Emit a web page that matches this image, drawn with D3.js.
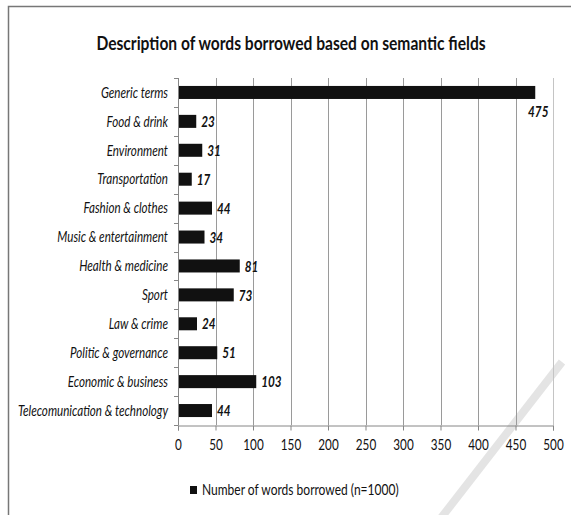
<!DOCTYPE html>
<html>
<head>
<meta charset="utf-8">
<script src="https://cdn.jsdelivr.net/npm/d3@7"></script>
<style>
  body { margin: 0; background: #fff; }
  svg { display: block; font-family: Lato, "Open Sans", sans-serif; }
</style>
</head>
<body>
<svg id="chart" width="571" height="515"></svg>
<script>
// chart data
const categories = [
	'Generic terms', 'Food & drink', 'Environment', 'Transportation',
	'Fashion & clothes', 'Music & entertainment', 'Health & medicine', 'Sport',
	'Law & crime', 'Politic & governance', 'Economic & business', 'Telecomunication & technology'
];
const wordCounts = [475, 23, 31, 17, 44, 34, 81, 73, 24, 51, 103, 44];
const xTicks = [0, 50, 100, 150, 200, 250, 300, 350, 400, 450, 500];
const chartTitle = 'Description of words borrowed based on semantic fields';
const legendLabel = 'Number of words borrowed (n=1000)';

const plot = { left: 178, right: 553, top: 78, bottom: 425 };
const axisColor = '#868686';

// the source font is a condensed one, so squeeze the glyphs horizontally
function condense(sel, k) {
	sel.each(function() {
		const len = this.getComputedTextLength();
		d3.select(this)
			.attr('textLength', len * k)
			.attr('lengthAdjust', 'spacingAndGlyphs');
	});
}

const svg = d3.select('#chart');

// watermark stroke + frame
svg.append('line')
	.attr('x1', 441).attr('y1', 518).attr('x2', 562).attr('y2', 362)
	.attr('stroke', '#e4e4e4').attr('stroke-width', 8);
svg.append('path')
	.attr('d', 'M8.5,520 V6.5 H575')
	.attr('fill', 'none').attr('stroke', '#777').attr('stroke-width', 1.5);

const title = svg.append('text')
	.attr('x', 291).attr('y', 50)
	.attr('text-anchor', 'middle')
	.attr('font-size', 19).attr('font-weight', 'bold')
	.attr('fill', '#111')
	.text(chartTitle);
condense(title, 0.82);

const x = d3.scaleLinear().domain([0, 500]).range([plot.left, plot.right]);
const y = d3.scaleBand().domain(categories).range([plot.top, plot.bottom])
	.paddingInner(0.55).paddingOuter(0.275);

// gridlines
svg.append('g').attr('class', 'grid')
	.selectAll('line')
	.data(xTicks.slice(1))
	.enter().append('line')
	.attr('x1', d => Math.round(x(d)) + 0.5).attr('x2', d => Math.round(x(d)) + 0.5)
	.attr('y1', plot.top).attr('y2', plot.bottom)
	.attr('stroke', d => d === 500 ? '#c4c4c4' : '#9a9a9a')
	.attr('stroke-width', 1);

// x axis
const xAxis = svg.append('g')
	.attr('transform', 'translate(0,' + (plot.bottom + 0.5) + ')')
	.call(d3.axisBottom(x).tickValues(xTicks).tickSize(5).tickSizeOuter(5).tickPadding(9));
xAxis.selectAll('path, line').attr('stroke', axisColor);
xAxis.selectAll('text').attr('font-size', 15).attr('fill', '#111')
	.attr('font-family', 'Lato, sans-serif');
condense(xAxis.selectAll('text'), 0.78);

// y axis line + boundary ticks
const gap = y.step() - y.bandwidth();
const bounds = categories.map(c => y(c) - gap / 2).concat([plot.bottom]);
svg.append('line')
	.attr('x1', plot.left + 0.5).attr('x2', plot.left + 0.5)
	.attr('y1', plot.top).attr('y2', plot.bottom)
	.attr('stroke', axisColor);
svg.append('g').selectAll('line')
	.data(bounds)
	.enter().append('line')
	.attr('x1', plot.left - 4).attr('x2', plot.left + 0.5)
	.attr('y1', d => Math.round(d) + 0.5).attr('y2', d => Math.round(d) + 0.5)
	.attr('stroke', axisColor);

// category labels
const catLabels = svg.append('g').selectAll('text')
	.data(categories)
	.enter().append('text')
	.attr('x', plot.left - 10)
	.attr('y', d => y(d) + y.bandwidth() / 2)
	.attr('dy', '0.35em')
	.attr('text-anchor', 'end')
	.attr('font-size', 15).attr('font-style', 'italic')
	.attr('fill', '#111')
	.text(d => d);
condense(catLabels, 0.775);

// bars
svg.append('g').selectAll('rect')
	.data(wordCounts)
	.enter().append('rect')
	.attr('x', x(0) + 1)
	.attr('y', (d, i) => y(categories[i]))
	.attr('width', d => x(d) - x(0))
	.attr('height', y.bandwidth())
	.attr('fill', '#111');

// value labels
const maxVal = d3.max(wordCounts);
const valLabels = svg.append('g').selectAll('text')
	.data(wordCounts)
	.enter().append('text')
	.attr('x', d => d === maxVal ? x(d) + 4 : x(d) + 6)
	.attr('y', (d, i) => y(categories[i]) + y.bandwidth() / 2 + (d === maxVal ? 19 : 0))
	.attr('dy', '0.38em')
	.attr('text-anchor', d => d === maxVal ? 'middle' : 'start')
	.attr('font-size', 15).attr('font-weight', 'bold').attr('font-style', 'italic')
	.attr('fill', '#111')
	.text(d => d);
condense(valLabels, 0.78);

// legend
const legend = svg.append('g').attr('transform', 'translate(190,486)');
legend.append('rect').attr('width', 7).attr('height', 8).attr('fill', '#111');
const legendText = legend.append('text')
	.attr('x', 12).attr('y', 9)
	.attr('font-size', 15).attr('fill', '#111')
	.text(legendLabel);
condense(legendText, 0.8);
</script>
</body>
</html>
